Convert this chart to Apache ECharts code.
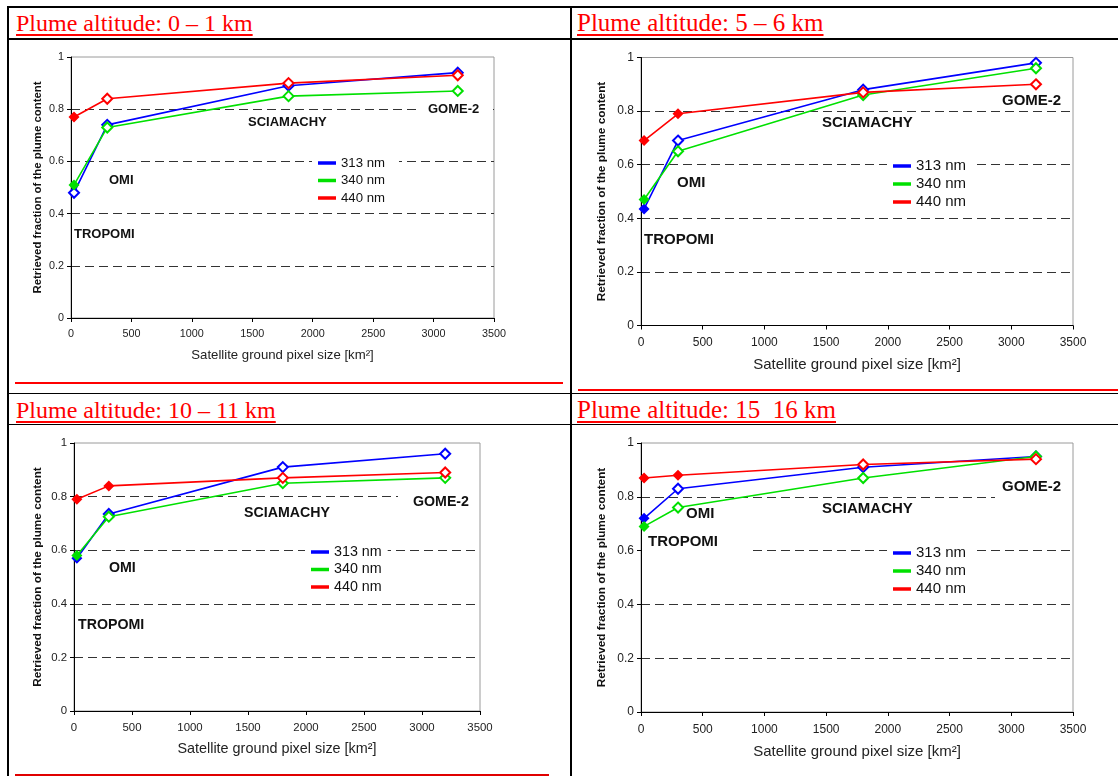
<!DOCTYPE html>
<html>
<head>
<meta charset="utf-8">
<script src="https://cdn.jsdelivr.net/npm/echarts@6/dist/echarts.min.js"></script>
<style>
  html, body { margin: 0; padding: 0; background: #fff; }
  #page { position: relative; width: 1118px; height: 776px; overflow: hidden; }
  .rule { position: absolute; }
  .title {
    position: absolute;
    font-family: "Liberation Serif", "Times New Roman", serif;
    color: #f00;
    white-space: pre;
    line-height: 1;
    text-decoration: underline;
    text-decoration-thickness: 2px;
    text-underline-offset: 3px;
  }
  #chart { position: absolute; left: 0; top: 0; width: 1118px; height: 776px; }
</style>
</head>
<body>
<div id="page">
  <div id="rules"></div>
  <div id="titles"></div>
  <div id="chart"></div>
</div>
<script>
// Satellite ground pixel sizes [km²] and instrument names
const pixelSize = [25, 300, 1800, 3200];
const instruments = ['TROPOMI', 'OMI', 'SCIAMACHY', 'GOME-2'];
const wavelengths = ['313 nm', '340 nm', '440 nm'];
const panelTitles = [
  'Plume altitude: 0 \u2013 1 km',
  'Plume altitude: 5 \u2013 6 km',
  'Plume altitude: 10 \u2013 11 km',
  'Plume altitude: 15  16 km'
];

// Retrieved fraction of the plume content, one row per wavelength (313, 340, 440 nm)
const frac0to1km   = [[0.48, 0.74, 0.89, 0.94], [0.51, 0.73, 0.85, 0.87], [0.77, 0.84, 0.90, 0.93]];
const frac5to6km   = [[0.435, 0.69, 0.88, 0.98], [0.47, 0.65, 0.86, 0.96], [0.69, 0.79, 0.87, 0.90]];
const frac10to11km = [[0.57, 0.735, 0.91, 0.96], [0.58, 0.725, 0.85, 0.87], [0.79, 0.84, 0.87, 0.89]];
const frac15to16km = [[0.72, 0.83, 0.91, 0.95], [0.69, 0.76, 0.87, 0.95], [0.87, 0.88, 0.92, 0.94]];

// Points drawn with a solid marker (1) instead of an open one (0)
const solid0to1km   = [[0, 0, 0, 0], [1, 0, 0, 0], [1, 0, 0, 0]];
const solid5to6km   = [[1, 0, 0, 0], [1, 0, 0, 0], [1, 1, 0, 0]];
const solid10to11km = [[1, 0, 0, 0], [1, 0, 0, 0], [1, 1, 0, 0]];
const solid15to16km = [[1, 0, 0, 0], [1, 0, 0, 0], [1, 1, 0, 0]];

const panelValues = [frac0to1km, frac5to6km, frac10to11km, frac15to16km];
const panelSolid = [solid0to1km, solid5to6km, solid10to11km, solid15to16km];

// ---- presentation ----
const lineColors = ['#0000ff', '#00e000', '#ff0000'];
const SANS = '"Liberation Sans", Arial, Helvetica, sans-serif';

const layout = [
  { grid: { left: 71, top: 57, width: 423, height: 261 }, tick: 10.8, xName: 13.2, yName: 11.4,
    xLabelMargin: 11, xNameGap: 31, yNameGap: 28,
    legend: { x: 318, y: 163, step: 17.5, font: 13.2, padR: 14 }, ann: 13,
    annPos: [[74, 234], [109, 180], [248, 122], [428, 109]],
    masks: [[419, 100, 74, 18]],
    title: { x: 16, y: 10.6, size: 24 } },
  { grid: { left: 641, top: 57.5, width: 432, height: 268 }, tick: 12, xName: 15, yName: 11.8,
    xLabelMargin: 11.5, xNameGap: 32, yNameGap: 33,
    legend: { x: 893, y: 166, step: 18, font: 15, padR: 10 }, ann: 15,
    annPos: [[644, 240], [677, 183], [822, 123], [1002, 101]],
    masks: [],
    title: { x: 577, y: 9.8, size: 25 } },
  { grid: { left: 74, top: 443, width: 406, height: 268 }, tick: 11.4, xName: 14.4, yName: 11.8,
    xLabelMargin: 11, xNameGap: 31.5, yNameGap: 30.5,
    legend: { x: 311, y: 552, step: 17.5, font: 14.3, padR: 6 }, ann: 14.2,
    annPos: [[78, 625], [109, 568], [244, 513], [413, 502]],
    masks: [[398, 490, 81, 20]],
    title: { x: 16, y: 398.2, size: 24 } },
  { grid: { left: 641, top: 443, width: 432, height: 269 }, tick: 12, xName: 15, yName: 11.8,
    xLabelMargin: 12, xNameGap: 32, yNameGap: 33,
    legend: { x: 893, y: 553, step: 18, font: 15, padR: 10 }, ann: 15,
    annPos: [[648, 542], [686, 514], [822, 509], [1002, 487]],
    masks: [[642, 533, 108, 22], [995, 478, 77, 21]],
    title: { x: 577, y: 397.4, size: 25 } }
];

// ---- table rules ----
const rules = [
  // [left, top, width, height, color]
  [7, 6, 1111, 2, '#000'],
  [7, 6, 1.6, 770, '#000'],
  [570, 6, 1.6, 770, '#000'],
  [7, 38, 1111, 1.6, '#000'],
  [15, 382.3, 548, 1.8, '#f00'],
  [578, 389, 540, 2, '#f00'],
  [7, 392.7, 1111, 1.6, '#000'],
  [7, 423.5, 1111, 1.6, '#000'],
  [15, 774.3, 534, 1.7, '#e00000']
];
const rulesDiv = document.getElementById('rules');
rules.forEach(r => {
  const d = document.createElement('div');
  d.className = 'rule';
  d.style.left = r[0] + 'px';
  d.style.top = r[1] + 'px';
  d.style.width = r[2] + 'px';
  d.style.height = r[3] + 'px';
  d.style.background = r[4];
  rulesDiv.appendChild(d);
});

const titlesDiv = document.getElementById('titles');
panelTitles.forEach((t, i) => {
  const d = document.createElement('div');
  d.className = 'title';
  d.textContent = t;
  d.style.left = layout[i].title.x + 'px';
  d.style.top = layout[i].title.y + 'px';
  d.style.fontSize = layout[i].title.size + 'px';
  titlesDiv.appendChild(d);
});

// ---- charts ----
const grids = [], xAxes = [], yAxes = [], series = [], legends = [], graphics = [];

layout.forEach((L, p) => {
  grids.push(Object.assign({ show: true, borderColor: '#9a9a9a', borderWidth: 1, backgroundColor: 'transparent' }, L.grid));

  xAxes.push({
    gridIndex: p, type: 'value', min: 0, max: 3500, interval: 500,
    name: 'Satellite ground pixel size [km\u00b2]', nameLocation: 'middle', nameGap: L.xNameGap,
    nameTextStyle: { fontFamily: SANS, fontSize: L.xName, color: '#222' },
    axisLine: { show: true, onZero: false, lineStyle: { color: '#000', width: 1 } },
    axisTick: { show: true, length: 4, lineStyle: { color: '#000' } },
    axisLabel: { fontFamily: SANS, fontSize: L.tick, color: '#222', margin: L.xLabelMargin,
      formatter: v => String(v) },
    splitLine: { show: false }
  });

  yAxes.push({
    gridIndex: p, type: 'value', min: 0, max: 1, interval: 0.2,
    name: 'Retrieved fraction of the plume content', nameLocation: 'middle', nameGap: L.yNameGap,
    nameRotate: 90,
    nameTextStyle: { fontFamily: SANS, fontSize: L.yName, fontWeight: 'bold', color: '#111' },
    axisLine: { show: true, onZero: false, lineStyle: { color: '#000', width: 1 } },
    axisTick: { show: true, length: 4, lineStyle: { color: '#000' } },
    axisLabel: { fontFamily: SANS, fontSize: L.tick, color: '#222', margin: 7,
      formatter: v => String(Math.round(v * 10) / 10) },
    splitLine: { show: true, showMinLine: false, showMaxLine: false,
      lineStyle: { color: '#333', width: 1.1, type: [9, 5] } }
  });

  panelValues[p].forEach((vals, w) => {
    series.push({
      type: 'line', name: wavelengths[w], xAxisIndex: p, yAxisIndex: p,
      color: lineColors[w],
      lineStyle: { width: 1.6, color: lineColors[w] },
      itemStyle: { color: lineColors[w], borderWidth: 1.2 },
      emphasis: { disabled: true },
      z: 3 + w,
      data: vals.map((v, k) => {
        const solid = panelSolid[p][w][k] === 1;
        return {
          value: [pixelSize[k], v],
          symbol: solid ? 'diamond' : 'emptyDiamond',
          symbolSize: solid ? 11 : 10
        };
      })
    });
  });

  const lh = L.legend.font + 1;
  legends.push({
    orient: 'vertical', data: wavelengths,
    left: L.legend.x - 6, top: L.legend.y - lh / 2 - 3,
    padding: [3, L.legend.padR, 3, 6],
    backgroundColor: '#fff',
    itemWidth: 18, itemHeight: 3.5, itemGap: L.legend.step - lh,
    icon: 'rect',
    textStyle: { fontFamily: SANS, fontSize: L.legend.font, lineHeight: lh, color: '#111' },
    selectedMode: false
  });

  L.masks.forEach(m => {
    graphics.push({ type: 'rect', z: 1, silent: true,
      shape: { x: m[0], y: m[1], width: m[2], height: m[3] }, style: { fill: '#fff' } });
  });

  instruments.forEach((name, k) => {
    graphics.push({ type: 'text', z: 10, silent: true,
      x: L.annPos[k][0], y: L.annPos[k][1],
      style: { text: name, fill: '#111', font: 'bold ' + L.ann + 'px ' + SANS, verticalAlign: 'middle', align: 'left' } });
  });
});

const chart = echarts.init(document.getElementById('chart'), null, { renderer: 'canvas' });
chart.setOption({
  animation: false,
  backgroundColor: 'transparent',
  grid: grids,
  xAxis: xAxes,
  yAxis: yAxes,
  legend: legends,
  series: series,
  graphic: graphics
});
</script>
</body>
</html>
